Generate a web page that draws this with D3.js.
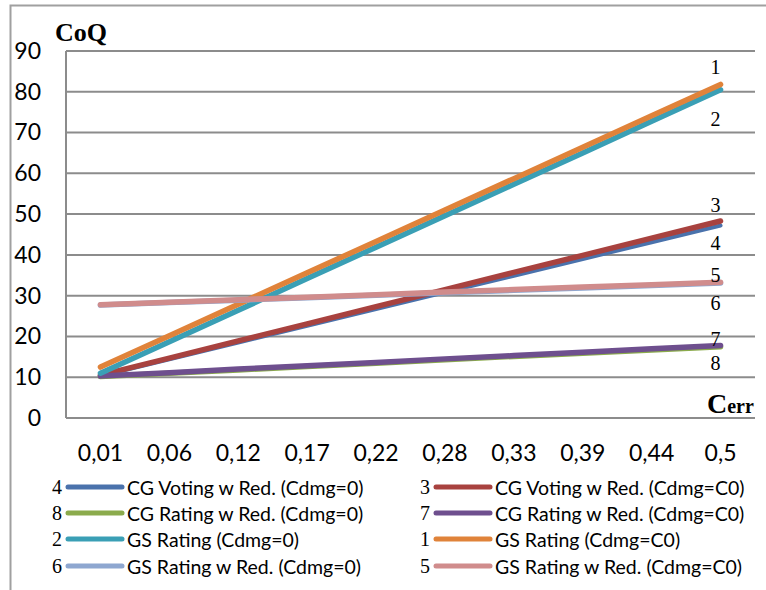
<!DOCTYPE html>
<html><head><meta charset="utf-8">
<script src="https://cdn.jsdelivr.net/npm/d3@7"></script>
<style>body{margin:0;background:#fff}svg{display:block}</style>
</head><body>
<svg id="c" width="766" height="590"></svg>
<script>
const categories = ["0,01","0,06","0,12","0,17","0,22","0,28","0,33","0,39","0,44","0,5"];
const yTicks = [0,10,20,30,40,50,60,70,80,90];
const seriesNames = [
  "CG Voting w Red. (Cdmg=0)","CG Voting w Red. (Cdmg=C0)",
  "CG Rating w Red. (Cdmg=0)","CG Rating w Red. (Cdmg=C0)",
  "GS Rating (Cdmg=0)","GS Rating (Cdmg=C0)",
  "GS Rating w Red. (Cdmg=0)","GS Rating w Red. (Cdmg=C0)"];
const seriesNums = ["4","3","8","7","2","1","6","5"];
const cgVoting0  = [10.3,14.4,18.5,22.6,26.7,30.8,34.9,39.0,43.1,47.2];
const cgVotingC0 = [10.5,14.7,18.9,23.1,27.3,31.5,35.7,39.9,44.1,48.3];
const cgRating0  = [10.2,11.0,11.8,12.6,13.4,14.3,15.1,15.9,16.7,17.5];
const cgRatingC0 = [10.3,11.1,12.0,12.8,13.6,14.5,15.3,16.1,17.0,17.8];
const gsRating0  = [11.0,18.7,26.4,34.2,41.9,49.6,57.3,65.0,72.8,80.5];
const gsRatingC0 = [12.5,20.2,27.9,35.6,43.3,51.0,58.7,66.4,74.1,81.8];
const gsRed0     = [27.7,28.3,28.9,29.5,30.1,30.7,31.3,31.9,32.5,33.1];
const gsRedC0    = [27.8,28.4,29.0,29.6,30.2,30.9,31.5,32.1,32.7,33.3];
const allValues = [cgVoting0,cgVotingC0,cgRating0,cgRatingC0,gsRating0,gsRatingC0,gsRed0,gsRedC0];
const colors = ["#4a72ac","#a8423f","#8bab4c","#6e4f8e","#3a9fb5","#e0833a","#8ea7d0","#d08c8c"];

const svg = d3.select("#c");
svg.append("path").attr("d","M10.5,590 V5.5 H766").attr("fill","none").attr("stroke","#a0a0a0").attr("stroke-width",2);

const L=66,R=755,T=51,B=418;
const x = d3.scaleBand().domain(categories).range([L,R]);
const y = d3.scaleLinear().domain([0,90]).range([B,T]);
const g = svg.append("g");
g.selectAll("line.grid").data(yTicks).join("line").attr("class","grid")
  .attr("x1",L).attr("x2",R).attr("y1",d=>y(d)).attr("y2",d=>y(d))
  .attr("stroke","#8c8c8c").attr("stroke-width",2);
g.append("line").attr("x1",L).attr("x2",L).attr("y1",T).attr("y2",B).attr("stroke","#8c8c8c").attr("stroke-width",2);

const tickFont = "Lato, 'Open Sans', sans-serif";
const yAxis = d3.axisLeft(y).tickValues(yTicks).tickSize(0).tickPadding(25).tickFormat(d3.format("d"));
const ya = svg.append("g").attr("transform",`translate(${L},0)`).call(yAxis);
ya.select(".domain").remove();
ya.selectAll("text").attr("font-family",tickFont).attr("font-size",23).attr("fill","#000");

const xAxis = d3.axisBottom(x).tickSize(0).tickPadding(27);
const xa = svg.append("g").attr("transform",`translate(0,${B})`).call(xAxis);
xa.select(".domain").remove();
xa.selectAll("text").attr("font-family",tickFont).attr("font-size",23).attr("fill","#000");

const line = d3.line().x((d,i)=>x(categories[i])+x.bandwidth()/2).y(d=>y(d));
allValues.forEach((vals,k)=>{
  g.append("path").datum(vals).attr("d",line).attr("fill","none")
   .attr("stroke",colors[k]).attr("stroke-width",k===0?4:5.5).attr("stroke-linecap","round");
});

const endOffsets = [17,-16,16,-6,29,-17,20,-7];
const lastX = x(categories[categories.length-1])+x.bandwidth()/2;
allValues.forEach((vals,k)=>{
  svg.append("text").attr("x",lastX-5).attr("y",y(vals[vals.length-1])+endOffsets[k])
    .attr("text-anchor","middle").attr("dominant-baseline","central")
    .attr("font-family","'Liberation Serif','DejaVu Serif',serif").attr("font-size",20).text(seriesNums[k]);
});

svg.append("text").attr("x",55).attr("y",41).attr("font-family","'Liberation Serif',serif")
  .attr("font-weight","bold").attr("font-size",26).text("CoQ");
const ct = svg.append("text").attr("x",707).attr("y",413).attr("font-family","'Liberation Serif',serif").attr("font-weight","bold");
ct.append("tspan").attr("font-size",28).text("C");
ct.append("tspan").attr("font-size",20).text("err");

const legX=[[62,68,122,127],[430,436,490,495]];
const legY=[487,513,539,566];
seriesNames.forEach((name,k)=>{
  const col=k%2,row=Math.floor(k/2);
  const [nx,lx1,lx2,tx]=legX[col];
  const yy=legY[row];
  svg.append("text").attr("x",nx).attr("y",yy).attr("text-anchor","end").attr("dominant-baseline","central")
    .attr("font-family","'Liberation Serif',serif").attr("font-size",20).text(seriesNums[k]);
  svg.append("line").attr("x1",lx1).attr("x2",lx2).attr("y1",yy).attr("y2",yy)
    .attr("stroke",colors[k]).attr("stroke-width",5).attr("stroke-linecap","round");
  svg.append("text").attr("x",tx).attr("y",yy).attr("dominant-baseline","central")
    .attr("font-family",tickFont).attr("font-size",19.5).text(name);
});
</script>
</body></html>
